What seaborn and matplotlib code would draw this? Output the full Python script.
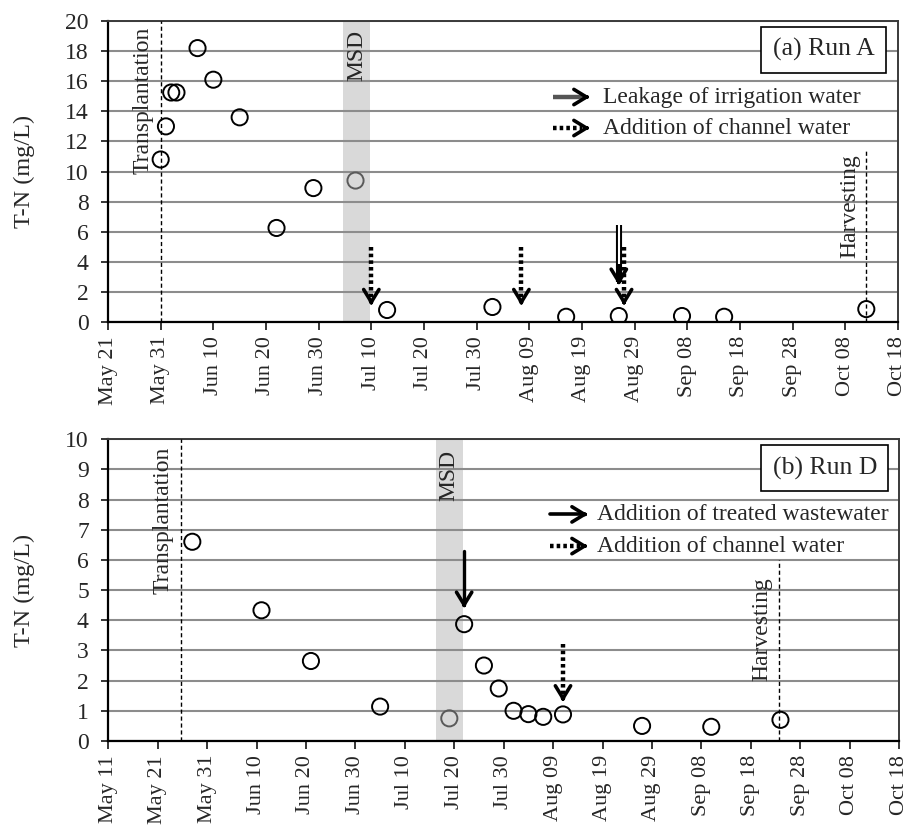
import pandas as pd
import matplotlib
matplotlib.use("Agg")
import matplotlib.pyplot as plt
import matplotlib.dates as mdates
import seaborn as sns

# ---- data: (a) Run A ----
dates_a = ["2014-05-31", "2014-06-01", "2014-06-02", "2014-06-03", "2014-06-07",
           "2014-06-10", "2014-06-15", "2014-06-22", "2014-06-29", "2014-07-07",
           "2014-07-13", "2014-08-02", "2014-08-16", "2014-08-26", "2014-09-07",
           "2014-09-15", "2014-10-12"]
tn_a = [10.8, 13.0, 15.25, 15.25, 18.2, 16.1, 13.6, 6.25, 8.9, 9.4,
        0.8, 1.0, 0.35, 0.4, 0.4, 0.35, 0.86]
msd_a = ["2014-07-04 16:00", "2014-07-09 20:00"]
transplant_a = "2014-05-31"
harvest_a = "2014-10-12"
channel_a = ["2014-07-10", "2014-08-07 12:00", "2014-08-27"]
leakage_a = ["2014-08-26"]
ticks_a = pd.date_range("2014-05-21", "2014-10-18", freq="10D")

# ---- data: (b) Run D ----
dates_d = ["2014-05-28", "2014-06-11", "2014-06-21", "2014-07-05", "2014-07-19",
           "2014-07-22", "2014-07-26", "2014-07-29", "2014-08-01", "2014-08-04",
           "2014-08-07", "2014-08-11", "2014-08-27", "2014-09-10", "2014-09-24"]
tn_d = [6.6, 4.33, 2.65, 1.14, 0.75, 3.87, 2.5, 1.74, 1.0, 0.89,
        0.8, 0.88, 0.5, 0.47, 0.7]
msd_d = ["2014-07-16 06:00", "2014-07-21 18:00"]
transplant_d = "2014-05-25 16:00"
harvest_d = "2014-09-23 16:00"
channel_d = ["2014-08-11"]
wastewater_d = ["2014-07-22"]
ticks_d = pd.date_range("2014-05-11", "2014-10-18", freq="10D")

sns.set_style("white")
plt.rcParams["font.family"] = ["Liberation Serif", "DejaVu Serif"]

HEAD = dict(arrowstyle="->,head_length=0.9,head_width=0.55", lw=2.6,
            color="black", shrinkA=0, shrinkB=0, mutation_scale=10)
DOTS = (0, (0.8, 0.7))


def in_range(dates, span):
    s0, s1 = pd.Timestamp(span[0]), pd.Timestamp(span[1])
    return [s0 <= pd.Timestamp(d) <= s1 for d in dates]


def down_arrow(ax, x, y0, y1, kind):
    x = pd.Timestamp(x)
    top = ax.get_ylim()[1]
    if kind == "dotted":
        ax.plot([x, x], [y0, y1 + 0.01 * top], ls=DOTS, lw=3.2, color="black")
    elif kind == "double":
        ax.plot([x, x], [y0, y1 + 0.01 * top], lw=4.4, color="black", solid_capstyle="butt")
        ax.plot([x, x], [y0, y1 + 0.07 * top], lw=1.5, color="white", solid_capstyle="butt")
    else:
        ax.plot([x, x], [y0, y1 + 0.01 * top], lw=2.4, color="black")
    ax.annotate("", xy=(x, y1), xytext=(0, 3), textcoords="offset points", arrowprops=HEAD)


def legend_arrow(ax, y, kind, x0, x1):
    if kind == "dotted":
        ax.plot([x0, x1 - 0.01], [y, y], ls=DOTS, lw=3.2, color="black", transform=ax.transAxes)
    elif kind == "double":
        ax.plot([x0, x1 - 0.005], [y, y], lw=3.2, color="#555555", transform=ax.transAxes,
                solid_capstyle="butt")
    else:
        ax.plot([x0, x1 - 0.005], [y, y], lw=2.6, color="black", transform=ax.transAxes)
    ax.annotate("", xy=(x1, y), xycoords="axes fraction", xytext=(-3, 0),
                textcoords="offset points", arrowprops=HEAD)


def panel(ax, dates, tn, msd, transplant, harvest, harvest_top, ymax, ystep,
          ticks, tag, txt_top, msd_top, harv_text_top):
    df = pd.DataFrame({"date": pd.to_datetime(dates), "tn": tn})
    df["msd"] = in_range(dates, msd)
    ax.axvspan(pd.Timestamp(msd[0]), pd.Timestamp(msd[1]), color="#d9d9d9", lw=0, zorder=0.2)
    sns.scatterplot(data=df[~df["msd"]], x="date", y="tn", ax=ax, marker="o", s=135,
                    facecolors="none", edgecolor="black", linewidth=1.4, zorder=5)
    sns.scatterplot(data=df[df["msd"]], x="date", y="tn", ax=ax, marker="o", s=135,
                    facecolors="none", edgecolor="#5a5a5a", linewidth=1.4, zorder=5)

    ax.set_xlim(ticks[0], ticks[-1])
    ax.set_ylim(0, ymax)
    ax.set_yticks(range(0, ymax + 1, ystep))
    ax.set_xticks(ticks)
    ax.xaxis.set_major_formatter(mdates.DateFormatter("%b %d"))
    ax.tick_params(axis="x", rotation=90, labelsize=16, length=6, width=1.3,
                   direction="out", bottom=True, pad=4)
    ax.tick_params(axis="y", labelsize=17, length=5, width=1.3, direction="out",
                   left=True, pad=9)
    ax.set_axisbelow(True)
    ax.yaxis.grid(True, color="#8c8c8c", lw=1.5)
    ax.xaxis.grid(False)
    for side in ["left", "bottom"]:
        ax.spines[side].set_color("black")
        ax.spines[side].set_linewidth(1.6)
    for side in ["top", "right"]:
        ax.spines[side].set_color("#3a3a3a")
        ax.spines[side].set_linewidth(1.4)
    ax.set_xlabel("")
    ax.set_ylabel("T-N (mg/L)", fontsize=17.5)
    ax.yaxis.set_label_coords(-0.093, 0.5)

    # event lines
    tp = pd.Timestamp(transplant)
    hv = pd.Timestamp(harvest)
    ax.plot([tp, tp], [0, ymax], ls=(0, (3, 2)), lw=1, color="black", zorder=3)
    ax.plot([hv, hv], [0, harvest_top], ls=(0, (3, 2)), lw=1, color="black", zorder=3)
    ax.annotate("Transplantation", xy=(tp, txt_top), xytext=(-12.5, 0),
                textcoords="offset points", rotation=90, ha="center", va="top", fontsize=17)
    ax.annotate("Harvesting", xy=(hv, harv_text_top), xytext=(-12, 0),
                textcoords="offset points", rotation=90, ha="center", va="top", fontsize=17)
    mid = pd.Timestamp(msd[0]) + (pd.Timestamp(msd[1]) - pd.Timestamp(msd[0])) / 2
    ax.text(mid, msd_top, "MSD", rotation=90, ha="center", va="top", fontsize=17)

    ax.text(0.906, 0.904, tag, transform=ax.transAxes, ha="center", va="center",
            fontsize=18.5, zorder=6,
            bbox=dict(boxstyle="square,pad=0.45", fc="white", ec="black", lw=1.2))


fig = plt.figure(figsize=(9.1, 8.27), dpi=100)
ax1 = fig.add_axes([0.1187, 0.6106, 0.868, 0.364])
ax2 = fig.add_axes([0.119, 0.104, 0.869, 0.365])

panel(ax1, dates_a, tn_a, msd_a, transplant_a, harvest_a, 11.4, 20, 2, ticks_a,
      "(a) Run A", 19.6, 19.4, 11.15)
for d in channel_a:
    down_arrow(ax1, d, 5.0, 1.1, "dotted")
for d in leakage_a:
    down_arrow(ax1, d, 6.45, 2.45, "double")
legend_arrow(ax1, 0.7475, "double", 0.563, 0.610)
legend_arrow(ax1, 0.6445, "dotted", 0.563, 0.610)
ax1.text(0.6266, 0.7475, "Leakage of irrigation water", transform=ax1.transAxes,
         ha="left", va="center", fontsize=17)
ax1.text(0.6266, 0.6445, "Addition of channel water", transform=ax1.transAxes,
         ha="left", va="center", fontsize=17)

panel(ax2, dates_d, tn_d, msd_d, transplant_d, harvest_d, 6.0, 10, 1, ticks_d,
      "(b) Run D", 9.75, 9.64, 5.44)
for d in channel_d:
    down_arrow(ax2, d, 3.2, 1.3, "dotted")
for d in wastewater_d:
    down_arrow(ax2, d, 6.3, 4.4, "solid")
legend_arrow(ax2, 0.7507, "solid", 0.5585, 0.6065)
legend_arrow(ax2, 0.6457, "dotted", 0.5585, 0.6065)
ax2.text(0.6174, 0.7507, "Addition of treated wastewater", transform=ax2.transAxes,
         ha="left", va="center", fontsize=17)
ax2.text(0.6174, 0.6457, "Addition of channel water", transform=ax2.transAxes,
         ha="left", va="center", fontsize=17)

fig.savefig("out.png", dpi=100)
